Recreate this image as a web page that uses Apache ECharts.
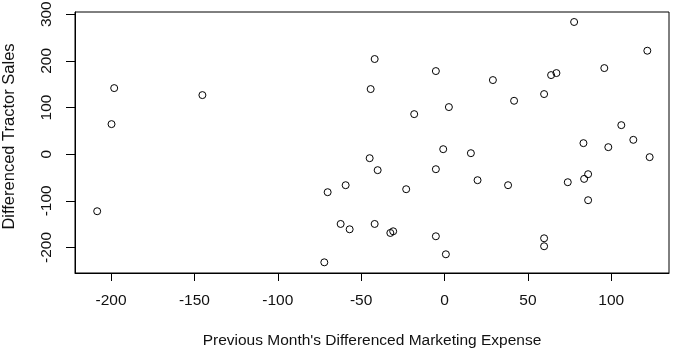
<!DOCTYPE html>
<html>
<head>
    <meta charset="utf-8" />
    <title>Differenced Tractor Sales vs Marketing Expense</title>
    <script src="https://cdn.jsdelivr.net/npm/echarts@6/dist/echarts.min.js"></script>
</head>
<body style="margin:0;background:#fff;">
<div id="main" style="width: 673px;height:351px;"></div>
<script type="text/javascript">
    // previous month's differenced marketing expense (x)
    var expenseDiff = [
        -198.1, -199.7, -145.2, 77.7, 121.6, -41.9, 95.8, -5.2, 29.0, 63.9,
        67.1, -44.3, 59.7, 41.7, 2.6, -18.2, 106.0, 113.2, 83.3, 98.2,
        -0.8, 15.8, 123.0, -44.9, -40.1, -5.2, 19.8, 38.1, 73.9, 86.1,
        83.7, 86.1, -59.3, -23.0, -62.3, -56.9, -41.9, -32.5, -30.8, -5.2,
        0.8, 59.7, 59.7, -208.3, -70.1, -72.1
    ];
    // differenced tractor sales (y)
    var salesDiff = [
        141.6, 64.4, 126.6, 283.3, 221.7, 203.9, 184.5, 178.1, 158.8, 169.5,
        173.8, 139.5, 128.8, 114.4, 100.9, 85.8, 62.2, 30.7, 23.6, 15.0,
        10.7, 2.1, -6.4, -8.6, -34.3, -32.2, -55.8, -66.5, -60.1, -42.9,
        -53.0, -98.7, -66.5, -75.1, -149.6, -161.0, -149.6, -168.9, -165.3, -176.0,
        -214.6, -180.3, -197.4, -122.3, -81.5, -231.8
    ];
    // tick labels
    var xTicks = [-200, -150, -100, -50, 0, 50, 100];
    var yTicks = [-200, -100, 0, 100, 200, 300];

    var points = [];
    for (var i = 0; i < expenseDiff.length; i++) {
        points.push([expenseDiff[i], salesDiff[i]]);
    }

    var font = 'Arial, "Liberation Sans", sans-serif';
    var myChart = echarts.init(document.getElementById('main'));
    var option = {
        animation: false,
        backgroundColor: '#fff',
        grid: {
            left: 75, top: 12, right: 4, bottom: 78,
            containLabel: false, outerBoundsMode: 'none',
            show: true, borderColor: '#000', borderWidth: 1, backgroundColor: 'transparent'
        },
        xAxis: {
            type: 'value',
            min: -221.6, max: 134.6,
            name: "Previous Month's Differenced Marketing Expense",
            nameLocation: 'middle',
            nameGap: 60,
            nameTextStyle: {color: '#111', fontSize: 15.5, fontFamily: font},
            splitLine: {show: false},
            axisLine: {show: true, onZero: false, lineStyle: {color: '#000', width: 1}},
            axisTick: {show: true, length: 8, customValues: xTicks, lineStyle: {color: '#000'}},
            axisLabel: {color: '#111', fontSize: 15.5, fontFamily: font, margin: 20, customValues: xTicks}
        },
        yAxis: {
            type: 'value',
            min: -254.7, max: 304.7,
            name: 'Differenced Tractor Sales',
            nameLocation: 'middle',
            nameRotate: 90,
            nameGap: 57,
            nameTextStyle: {color: '#111', fontSize: 16.5, fontFamily: font, padding: [0, 0, 0, 12]},
            splitLine: {show: false},
            axisLine: {show: true, onZero: false, lineStyle: {color: '#000', width: 1}},
            axisTick: {show: true, length: 9, customValues: yTicks, lineStyle: {color: '#000'}},
            axisLabel: {color: '#111', fontSize: 15.5, fontFamily: font, margin: 20, rotate: 90, customValues: yTicks}
        },
        series: [
            {
                type: 'scatter',
                data: points,
                symbol: 'circle',
                symbolSize: 7,
                itemStyle: {color: 'rgba(0,0,0,0)', borderColor: '#000', borderWidth: 1, opacity: 1}
            }
        ]
    };
    myChart.setOption(option);
</script>
</body>
</html>
